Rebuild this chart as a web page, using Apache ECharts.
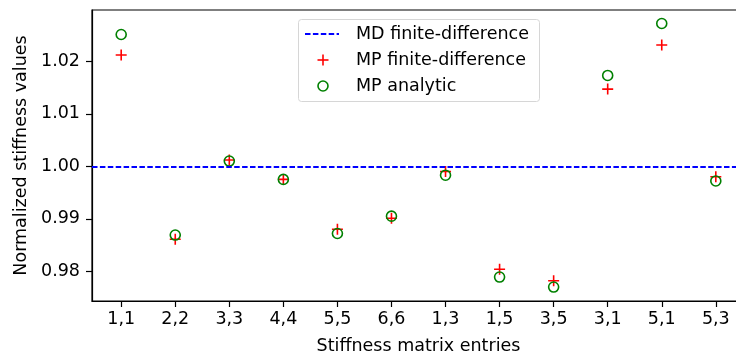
<!DOCTYPE html>
<html><head><meta charset="utf-8">
<script src="https://cdn.jsdelivr.net/npm/echarts@6/dist/echarts.min.js"></script>
<style>html,body{margin:0;padding:0;background:#fff}#c{width:736px;height:354px}</style>
</head><body><div id="c"></div>
<script>
const categories = ['1,1','2,2','3,3','4,4','5,5','6,6','1,3','1,5','3,5','3,1','5,1','5,3'];
const mpFinite = [1.0212,0.9861,1.0012,0.9975,0.9880,0.9901,0.9990,0.9804,0.9782,1.0147,1.0231,0.9980];
const mpAnalytic = [1.0251,0.9869,1.0010,0.9975,0.9872,0.9905,0.9983,0.9789,0.9770,1.0173,1.0272,0.9972];
const mdReference = 1.0;
const yTicks = [0.98,0.99,1.00,1.01,1.02];
const xTicks = categories.map((c,i)=>i);
const legendNames = ['MD finite-difference','MP finite-difference','MP analytic'];

const plusPath = 'path://M0,5L10,5M5,0L5,10';
const font = 'DejaVu Sans';
const fs = 17.5;
const chart = echarts.init(document.getElementById('c'), null, {renderer:'canvas'});

const lx = 298, ly = 19, rowY = [34, 60, 86], iconX = 323;
const legendGraphic = {
  type:'group', z:100, children:[
    {type:'rect', shape:{x:lx+0.5, y:ly+0.5, width:241, height:82, r:3},
      style:{fill:'rgba(255,255,255,0.8)', stroke:'#d6d6d6', lineWidth:1}},
    {type:'line', shape:{x1:305, y1:rowY[0], x2:339, y2:rowY[0]},
      style:{stroke:'#0000ff', lineWidth:1.8, lineDash:[5.5,2.4]}},
    {type:'polyline', shape:{points:[[iconX-5.5,rowY[1]],[iconX+5.5,rowY[1]]]}, style:{stroke:'#ff0000', lineWidth:1.6}},
    {type:'polyline', shape:{points:[[iconX,rowY[1]-5.5],[iconX,rowY[1]+5.5]]}, style:{stroke:'#ff0000', lineWidth:1.6}},
    {type:'circle', shape:{cx:iconX, cy:rowY[2], r:5}, style:{fill:'none', stroke:'#008000', lineWidth:1.6}}
  ].concat(legendNames.map((n,i)=>({type:'text', x:356, y:rowY[i],
    style:{text:n, font:fs+'px "DejaVu Sans"', fill:'#000', textVerticalAlign:'middle', textAlign:'left'}})))
};

chart.setOption({
  animation:false,
  textStyle:{fontFamily:font},
  grid:{left:92, top:10, width:653, height:291, show:true, borderColor:'#000', borderWidth:1.2,
    outerBoundsMode:'none', containLabel:false},
  xAxis:{type:'value', min:-0.54, max:11.54,
    name:'Stiffness matrix entries', nameLocation:'middle', nameGap:36,
    nameTextStyle:{fontSize:fs, color:'#000', fontFamily:font},
    axisLine:{show:true, onZero:false, lineStyle:{color:'#000', width:1.2}},
    axisTick:{show:true, length:6, lineStyle:{color:'#000', width:1.2}, customValues:xTicks},
    axisLabel:{customValues:xTicks, fontSize:fs, color:'#000', margin:9, fontFamily:font,
      formatter:v=>categories[Math.round(v)]},
    splitLine:{show:false}},
  yAxis:{type:'value', min:0.97434, max:1.02977,
    name:'Normalized stiffness values', nameLocation:'middle', nameGap:62,
    nameTextStyle:{fontSize:fs, color:'#000', fontFamily:font},
    axisLine:{show:true, onZero:false, lineStyle:{color:'#000', width:1.2}},
    axisTick:{show:true, length:6, lineStyle:{color:'#000', width:1.2}, customValues:yTicks},
    axisLabel:{customValues:yTicks, fontSize:fs, color:'#000', margin:12, fontFamily:font,
      formatter:v=>v.toFixed(2)},
    splitLine:{show:false}},
  graphic:[legendGraphic],
  series:[
    {name:legendNames[0], type:'line', data:[], symbol:'none',
      markLine:{silent:true, symbol:'none', label:{show:false},
        lineStyle:{color:'#0000ff', type:[5.5,2.4], width:1.8},
        data:[{yAxis:mdReference}]}},
    {name:legendNames[1], type:'scatter', symbol:plusPath, symbolSize:11,
      itemStyle:{color:'none', borderColor:'#ff0000', borderWidth:1.6, opacity:1},
      data:mpFinite.map((v,i)=>[i,v]), z:3},
    {name:legendNames[2], type:'scatter', symbol:'circle', symbolSize:10,
      itemStyle:{color:'rgba(0,0,0,0)', borderColor:'#008000', borderWidth:1.6, opacity:1},
      data:mpAnalytic.map((v,i)=>[i,v]), z:4}
  ]
});
</script></body></html>
